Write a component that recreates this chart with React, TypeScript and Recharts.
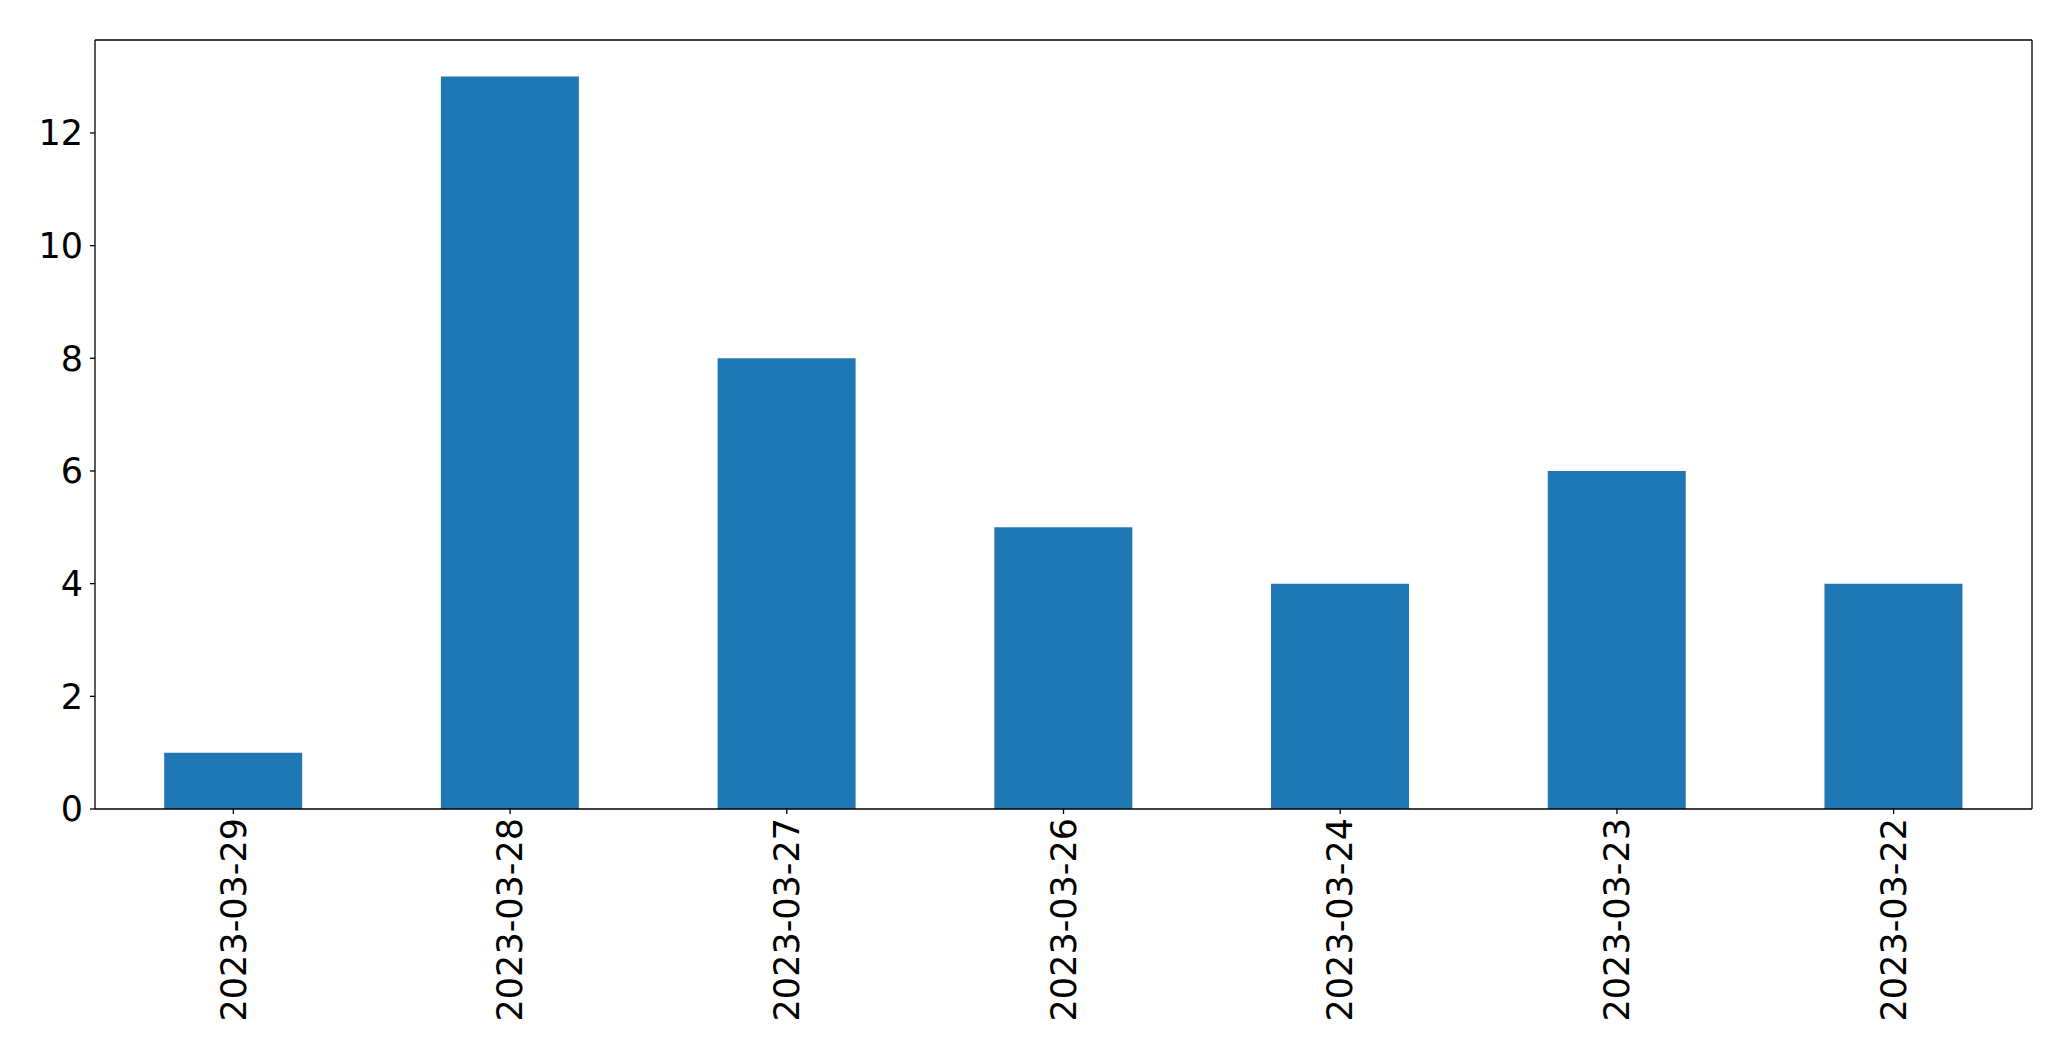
import React from "react";
import { BarChart, Bar, XAxis, YAxis, ReferenceLine } from "recharts";

const dates = [
  "2023-03-29",
  "2023-03-28",
  "2023-03-27",
  "2023-03-26",
  "2023-03-24",
  "2023-03-23",
  "2023-03-22",
];
const counts = [1, 13, 8, 5, 4, 6, 4];
const yTicks = [0, 2, 4, 6, 8, 10, 12];
const yMax = 13.65;

const data = dates.map((date, i) => ({ date, count: counts[i] }));

const FONT = "'DejaVu Sans', sans-serif";

const DateTick = (props: any) => {
  const { x, y, payload } = props;
  return (
    <text
      x={x}
      y={y}
      transform={`rotate(-90, ${x}, ${y})`}
      textAnchor="end"
      dy="0.35em"
      fontSize={35}
      fontFamily={FONT}
      fill="#000"
    >
      {payload.value}
    </text>
  );
};

const App: React.FC = () => {
  return (
    <div style={{ position: "absolute", left: 0, top: 0, background: "#fff" }}>
      <BarChart
        width={2071}
        height={1061}
        data={data}
        margin={{ top: 40, right: 39, left: 0, bottom: 0 }}
        barCategoryGap="25%"
      >
        <XAxis
          dataKey="date"
          interval={0}
          height={252}
          tick={<DateTick />}
          tickSize={5}
          tickMargin={4}
          axisLine={{ stroke: "#000", strokeWidth: 1.3 }}
          tickLine={{ stroke: "#000", strokeWidth: 1.3 }}
        />
        <YAxis
          domain={[0, yMax]}
          ticks={yTicks}
          width={95}
          tickSize={5}
          tickMargin={7}
          axisLine={{ stroke: "#000", strokeWidth: 1.3 }}
          tickLine={{ stroke: "#000", strokeWidth: 1.3 }}
          tick={{ fontSize: 35, fontFamily: FONT, fill: "#000" }}
          allowDataOverflow
        />
        <Bar dataKey="count" fill="#1f77b4" isAnimationActive={false} />
        <ReferenceLine y={yMax} stroke="#000" strokeWidth={1.3} ifOverflow="extendDomain" />
        <ReferenceLine
          x={dates[dates.length - 1]}
          position="end"
          stroke="#000"
          strokeWidth={1.3}
        />
      </BarChart>
    </div>
  );
};

export default App;
